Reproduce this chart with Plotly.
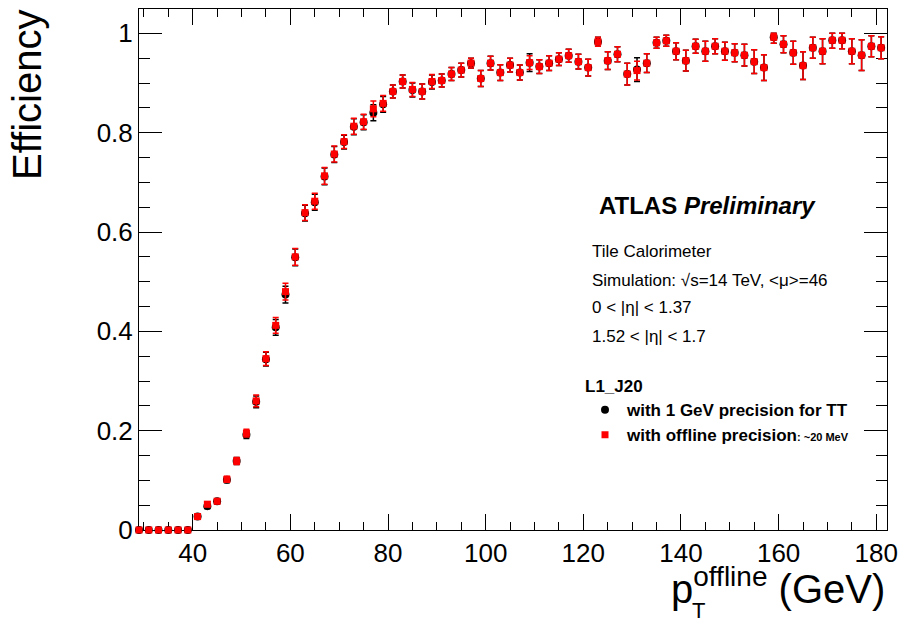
import plotly.graph_objects as go

FONT = "Liberation Sans, Arial, Helvetica, sans-serif"

# bin centres (GeV)
pt = [29, 31, 33, 35, 37, 39, 41, 43, 45, 47, 49, 51, 53, 55, 57, 59, 61, 63, 65, 67,
      69, 71, 73, 75, 77, 79, 81, 83, 85, 87, 89, 91, 93, 95, 97, 99, 101, 103, 105, 107,
      109, 111, 113, 115, 117, 119, 121, 123, 125, 127, 129, 131, 133, 135, 137, 139, 141,
      143, 145, 147, 149, 151, 153, 155, 157, 159, 161, 163, 165, 167, 169, 171, 173, 175,
      177, 179, 181]

# offline precision (red squares)
eff_offline = [0.0, 0.0, 0.0, 0.0, 0.0, 0.0, 0.027, 0.052, 0.058, 0.102, 0.139, 0.195, 0.260,
               0.345, 0.412, 0.480, 0.550, 0.639, 0.662, 0.713, 0.757, 0.782, 0.813, 0.822,
               0.848, 0.859, 0.883, 0.903, 0.887, 0.883, 0.903, 0.905, 0.918, 0.926, 0.940,
               0.909, 0.940, 0.921, 0.936, 0.921, 0.941, 0.933, 0.940, 0.948, 0.955, 0.943,
               0.931, 0.983, 0.945, 0.958, 0.918, 0.925, 0.940, 0.981, 0.985, 0.964, 0.945,
               0.974, 0.964, 0.974, 0.964, 0.961, 0.956, 0.943, 0.931, 0.992, 0.978, 0.961,
               0.935, 0.971, 0.964, 0.986, 0.986, 0.964, 0.956, 0.974, 0.971]
err_offline = [0.0, 0.0, 0.0, 0.0, 0.0, 0.0, 0.004, 0.005, 0.005, 0.006, 0.007, 0.008, 0.012,
               0.014, 0.016, 0.017, 0.017, 0.016, 0.016, 0.017, 0.016, 0.014, 0.016, 0.015,
               0.016, 0.016, 0.013, 0.013, 0.014, 0.015, 0.014, 0.013, 0.013, 0.014, 0.010,
               0.016, 0.014, 0.016, 0.014, 0.015, 0.014, 0.014, 0.015, 0.013, 0.013, 0.015,
               0.017, 0.009, 0.018, 0.015, 0.022, 0.019, 0.019, 0.011, 0.011, 0.017, 0.021,
               0.014, 0.020, 0.015, 0.018, 0.018, 0.022, 0.024, 0.026, 0.012, 0.017, 0.023,
               0.028, 0.021, 0.025, 0.016, 0.017, 0.025, 0.031, 0.021, 0.022]

# 1 GeV precision for TT (black circles)
eff_1gev = [0.0, 0.0, 0.0, 0.0, 0.0, 0.0, 0.027, 0.048, 0.058, 0.101, 0.139, 0.192, 0.258,
            0.344, 0.408, 0.474, 0.549, 0.638, 0.660, 0.712, 0.756, 0.781, 0.812, 0.821,
            0.840, 0.857, 0.883, 0.903, 0.886, 0.883, 0.902, 0.905, 0.918, 0.926, 0.940,
            0.909, 0.940, 0.921, 0.936, 0.921, 0.941, 0.933, 0.940, 0.948, 0.955, 0.943,
            0.931, 0.983, 0.945, 0.958, 0.918, 0.927, 0.940, 0.981, 0.985, 0.964, 0.945,
            0.974, 0.964, 0.974, 0.964, 0.961, 0.956, 0.943, 0.931, 0.992, 0.978, 0.961,
            0.935, 0.971, 0.964, 0.986, 0.986, 0.964, 0.956, 0.974, 0.971]
err_1gev = [0.0, 0.0, 0.0, 0.0, 0.0, 0.0, 0.004, 0.005, 0.005, 0.006, 0.007, 0.008, 0.012,
            0.014, 0.016, 0.017, 0.017, 0.016, 0.016, 0.017, 0.016, 0.014, 0.016, 0.015,
            0.016, 0.016, 0.013, 0.013, 0.014, 0.015, 0.014, 0.013, 0.013, 0.014, 0.010,
            0.016, 0.014, 0.016, 0.014, 0.015, 0.018, 0.014, 0.015, 0.013, 0.013, 0.015,
            0.017, 0.009, 0.018, 0.015, 0.022, 0.024, 0.019, 0.011, 0.011, 0.017, 0.021,
            0.014, 0.020, 0.015, 0.018, 0.018, 0.022, 0.024, 0.026, 0.012, 0.017, 0.023,
            0.028, 0.021, 0.025, 0.016, 0.017, 0.025, 0.031, 0.021, 0.022]


def upper(vals, errs):
    return [min(e, 1.0 - v) for v, e in zip(vals, errs)]


fig = go.Figure()
fig.add_trace(go.Scatter(
    x=pt, y=eff_1gev, mode="markers",
    name="<b>with 1 GeV precision for TT</b>",
    marker=dict(symbol="circle", size=8, color="#000000"),
    error_y=dict(type="data", array=upper(eff_1gev, err_1gev), arrayminus=err_1gev,
                 color="#000000", thickness=1.5, width=3),
    cliponaxis=False,
))
fig.add_trace(go.Scatter(
    x=pt, y=eff_offline, mode="markers",
    name="<b>with offline precision</b><span style='font-size:11px'><b>: ~20 MeV</b></span>",
    marker=dict(symbol="square", size=7, color="#ff0000"),
    error_y=dict(type="data", array=upper(eff_offline, err_offline), arrayminus=err_offline,
                 color="#ff0000", thickness=1.5, width=3),
    cliponaxis=False,
))

L, R, T, B = 139, 13, 9, 95
W, H = 900, 625
pw, ph = W - L - R, H - T - B


def px(x):
    return (x - L) / pw


def py(y):
    return (H - B - y) / ph


ann = []
ann.append(dict(x=px(597), y=py(205), xanchor="left", yanchor="middle",
                text="<b>ATLAS</b> <b><i>Preliminary</i></b>",
                font=dict(size=24, family=FONT, color="black")))
info = ["Tile Calorimeter", "Simulation: √s=14 TeV, <μ>=46",
        "0 < |η| < 1.37", "1.52 < |η| < 1.7"]
info_y = [252, 280, 308, 337]
for t, yy in zip(info, info_y):
    ann.append(dict(x=px(590), y=py(yy), xanchor="left", yanchor="middle",
                    text=t.replace("<", "&lt;").replace(">", "&gt;"),
                    font=dict(size=17, family=FONT, color="black")))
# axis titles
ann.append(dict(x=px(27), y=py(95), xanchor="center", yanchor="middle", textangle=-90,
                text="Efficiency", font=dict(size=40, family=FONT, color="black")))
ann.append(dict(x=px(887), y=py(613), xanchor="right", yanchor="bottom",
                text="p<sup>offline</sup> (GeV)",
                font=dict(size=40, family=FONT, color="black")))
ann.append(dict(x=px(698.5), y=py(625), xanchor="center", yanchor="bottom",
                text="T", font=dict(size=22, family=FONT, color="black")))
for a in ann:
    a.update(xref="paper", yref="paper", showarrow=False)

fig.update_layout(
    width=W, height=H,
    margin=dict(l=L, r=R, t=T, b=B, pad=0, autoexpand=False),
    paper_bgcolor="white", plot_bgcolor="white",
    font=dict(family=FONT, color="black"),
    annotations=ann,
    showlegend=True,
    legend=dict(
        x=px(583), y=py(370), xanchor="left", yanchor="top",
        bgcolor="rgba(0,0,0,0)",
        font=dict(size=17, family=FONT, color="black"),
        title=dict(text="<b>L1_J20</b>", font=dict(size=17, family=FONT, color="black")),
        tracegroupgap=0, itemwidth=34,
    ),
    xaxis=dict(
        range=[29, 182.2], showgrid=False, zeroline=False, automargin=False,
        showline=True, linecolor="black", linewidth=1, mirror="allticks",
        ticks="inside", ticklen=16, tickwidth=1, tickcolor="black",
        tickmode="linear", tick0=0, dtick=20,
        tickfont=dict(size=26, family=FONT, color="black"),
        minor=dict(ticks="inside", ticklen=8, dtick=5, tick0=0, tickcolor="black", showgrid=False),
        layer="below traces",
    ),
    yaxis=dict(
        range=[0, 1.049], showgrid=False, zeroline=False, automargin=False,
        showline=True, linecolor="black", linewidth=1, mirror="allticks",
        ticks="inside", ticklen=23, tickwidth=1, tickcolor="black",
        tickmode="linear", tick0=0, dtick=0.2,
        tickfont=dict(size=26, family=FONT, color="black"),
        minor=dict(ticks="inside", ticklen=11, dtick=0.05, tick0=0, tickcolor="black", showgrid=False),
        layer="below traces",
    ),
)

fig.write_html("out.html")
